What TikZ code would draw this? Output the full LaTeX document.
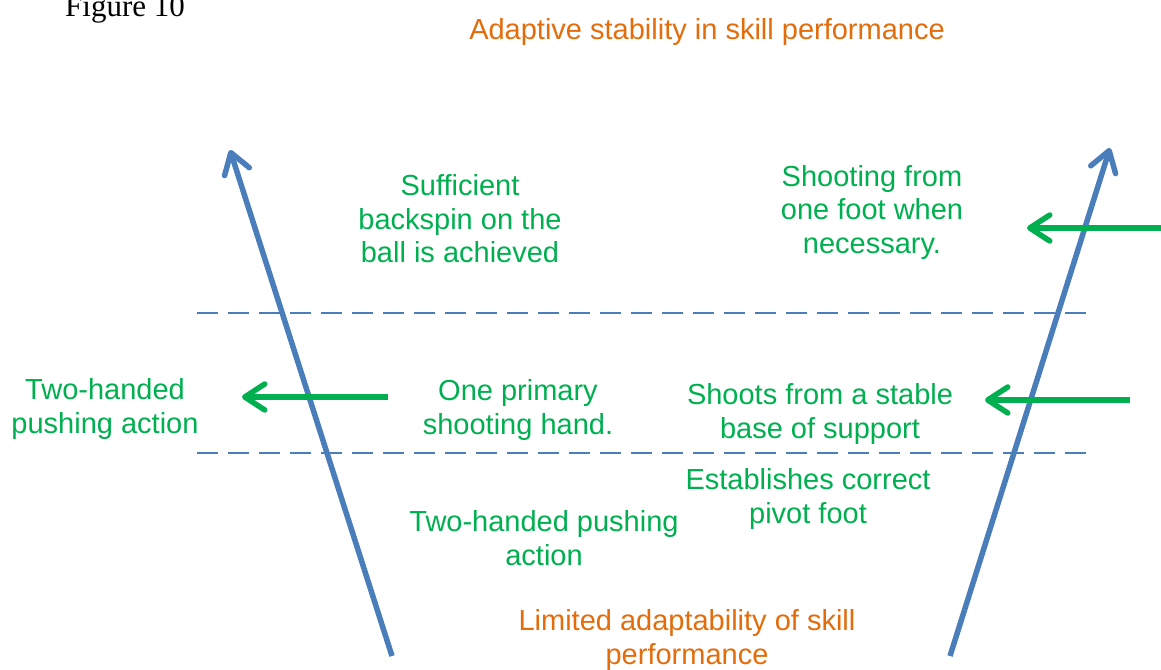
\documentclass[tikz,border=0pt]{standalone}
\usepackage{fontspec}
\setmainfont{Liberation Sans}
\newfontfamily\figfont{Liberation Serif}
\usetikzlibrary{arrows.meta}
\definecolor{bluel}{HTML}{4A7EBB}
\definecolor{greenl}{HTML}{00B050}
\definecolor{orangel}{HTML}{E46C0A}
\tikzset{
  lbl/.style={align=center, inner sep=0pt, font=\fontsize{29}{33.5}\selectfont},
  gtxt/.style={lbl, text=greenl},
  otxt/.style={lbl, text=orangel},
  bluearrow/.style={draw=bluel, line width=5.5pt, -{Straight Barb[length=20pt,width=26pt,round]}},
  greenarrow/.style={draw=greenl, line width=5.5pt, -{Straight Barb[length=20pt,width=26pt,round]}},
  dashline/.style={draw=bluel, line width=2.8pt, dash pattern=on 21pt off 10pt}
}
\begin{document}
\begin{tikzpicture}[x=1pt,y=-1pt]
\useasboundingbox (0,0) rectangle (1161,669);
% title
\node[anchor=base west, inner sep=0pt, font=\figfont\fontsize{31}{36}\selectfont] (fig) at (65,17) {Figure 10};
\node[otxt] (top) at (707,32) {Adaptive stability in skill performance};
\node[otxt] (bot) at (687,640) {Limited adaptability of skill\\performance};
% dashed lines
\coordinate (d1a) at (197,313); \coordinate (d1b) at (1090,313);
\coordinate (d2a) at (197,453); \coordinate (d2b) at (1090,453);
\draw[dashline] (d1a) -- (d1b);
\draw[dashline] (d2a) -- (d2b);
% blue arrows
\coordinate (lb0) at (392,656); \coordinate (lb1) at (230,150);
\coordinate (rb0) at (950,656); \coordinate (rb1) at (1110,148);
\draw[bluearrow] (lb0) -- (lb1);
\draw[bluearrow] (rb0) -- (rb1);
% green arrows
\coordinate (g1a) at (1161,228); \coordinate (g1b) at (1027,228);
\coordinate (g2a) at (388,397); \coordinate (g2b) at (242,397);
\coordinate (g3a) at (1130,400); \coordinate (g3b) at (985,400);
\draw[greenarrow] (g1a) -- (g1b);
\draw[greenarrow] (g2a) -- (g2b);
\draw[greenarrow] (g3a) -- (g3b);
% green texts
\node[gtxt] (suff) at (460,219) {Sufficient\\backspin on the\\ball is achieved};
\node[gtxt] (shoot) at (872,212) {Shooting from\\one foot when\\necessary.};
\node[gtxt] (two) at (105,409) {Two-handed\\pushing action};
\node[gtxt] (one) at (518,410) {One primary\\shooting hand.};
\node[gtxt] (stable) at (820,414) {Shoots from a stable\\base of support};
\node[gtxt] (pivot) at (808,499) {Establishes correct\\pivot foot};
\node[gtxt] (twob) at (544,538) {Two-handed pushing\\action};
\end{tikzpicture}
\end{document}
